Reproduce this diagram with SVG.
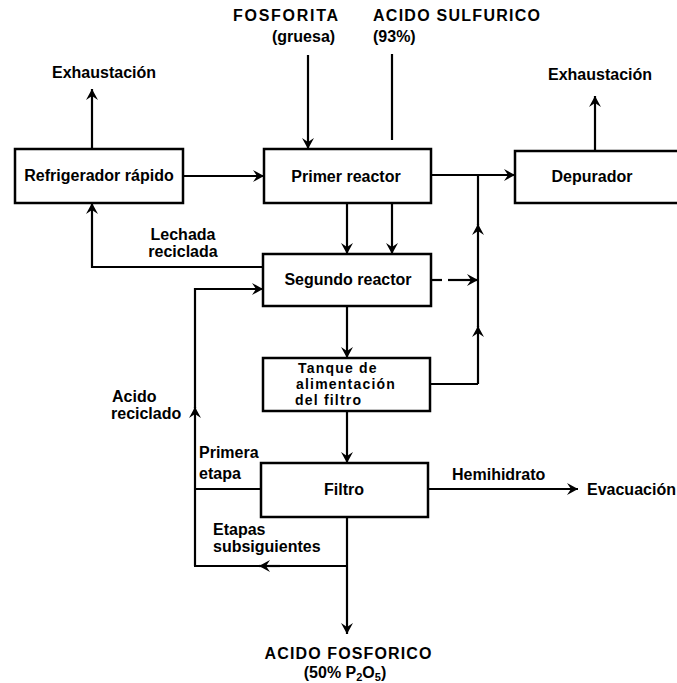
<svg xmlns="http://www.w3.org/2000/svg" width="677" height="683" viewBox="0 0 677 683">
  <style>
    .box { fill: #fff; stroke: #000; stroke-width: 2.5; }
    .ln { fill: none; stroke: #000; stroke-width: 2.2; }
    .arr { fill: none; stroke: #000; stroke-width: 2.2; marker-end: url(#head); }
    .t { font-family: "Liberation Sans", Arial, sans-serif; font-weight: bold; font-size: 16px; fill: #000; }
    .s { font-size: 14px; letter-spacing: 1.2px; }
    .m { text-anchor: middle; }
  </style>
  <defs>
    <marker id="head" markerUnits="userSpaceOnUse" markerWidth="14" markerHeight="14" viewBox="-12 -7 14 14" refX="0" refY="0" orient="auto">
      <path d="M-11,-6 L0,0 L-11,6 L-7,0 Z" fill="#000"/>
    </marker>
  </defs>

  <!-- connectors -->
  <g id="connectors">
    <!-- feeds -->
    <line class="arr" x1="308" y1="55" x2="308" y2="149"/>
    <line class="ln" x1="392" y1="54" x2="392" y2="140"/>
    <!-- exhausts -->
    <line class="arr" x1="92" y1="149" x2="92" y2="89"/>
    <line class="arr" x1="595" y1="151" x2="595" y2="96"/>
    <!-- quench cooler to first reactor -->
    <line class="arr" x1="183" y1="176" x2="264" y2="176"/>
    <!-- first reactor to scrubber -->
    <line class="arr" x1="431" y1="175" x2="515" y2="175"/>
    <!-- vent collector -->
    <line class="ln" x1="478" y1="175" x2="478" y2="225"/>
    <line class="arr" x1="478" y1="327" x2="478" y2="224"/>
    <line class="arr" x1="478" y1="384" x2="478" y2="326"/>
    <polyline class="ln" points="430,384 478,384"/>
    <line class="ln" x1="431" y1="280" x2="442" y2="280"/>
    <line class="arr" x1="448" y1="280" x2="478" y2="280"/>
    <!-- first reactor to second reactor -->
    <line class="arr" x1="347" y1="203" x2="347" y2="254"/>
    <line class="arr" x1="392" y1="203" x2="392" y2="254"/>
    <!-- recycled slurry -->
    <polyline class="arr" points="263,267 92,267 92,203"/>
    <!-- recycled acid -->
    <line class="ln" x1="195" y1="566" x2="195" y2="420"/>
    <line class="arr" x1="195" y1="420" x2="195" y2="407"/>
    <polyline class="arr" points="195,408 195,289 263,289"/>
    <!-- second reactor to feed tank -->
    <line class="arr" x1="347" y1="306" x2="347" y2="358"/>
    <!-- feed tank to filter -->
    <line class="arr" x1="347" y1="411" x2="347" y2="463"/>
    <!-- filter first stage -->
    <line class="ln" x1="261" y1="489" x2="195" y2="489"/>
    <!-- filter product and later stages -->
    <line class="arr" x1="347" y1="517" x2="347" y2="634"/>
    <line class="ln" x1="347" y1="566" x2="270" y2="566"/>
    <line class="arr" x1="280" y1="566" x2="259" y2="566"/>
    <line class="ln" x1="262" y1="566" x2="194" y2="566"/>
    <!-- hemihydrate to disposal -->
    <line class="arr" x1="428" y1="489" x2="578" y2="489"/>
  </g>

  <!-- nodes -->
  <g id="refrigerador">
    <rect class="box" x="15" y="149" width="168" height="54"/>
    <text class="t m" x="99" y="181">Refrigerador rápido</text>
  </g>
  <g id="primer-reactor">
    <rect class="box" x="264" y="149" width="167" height="54"/>
    <text class="t m" x="346" y="182">Primer reactor</text>
  </g>
  <g id="depurador">
    <rect class="box" x="515" y="151" width="170" height="52"/>
    <text class="t m" x="592" y="182">Depurador</text>
  </g>
  <g id="segundo-reactor">
    <rect class="box" x="263" y="254" width="168" height="52"/>
    <text class="t m" x="348" y="285">Segundo reactor</text>
  </g>
  <g id="tanque">
    <rect class="box" x="263" y="358" width="167" height="53"/>
    <text class="t s" x="298" y="373">Tanque de</text>
    <text class="t s" x="296" y="389">alimentación</text>
    <text class="t s" x="295" y="405">del filtro</text>
  </g>
  <g id="filtro">
    <rect class="box" x="261" y="463" width="167" height="54"/>
    <text class="t m" x="344" y="495">Filtro</text>
  </g>

  <!-- labels -->
  <g id="labels">
    <text class="t" x="233" y="21" textLength="105">FOSFORITA</text>
    <text class="t" x="272" y="42">(gruesa)</text>
    <text class="t" x="373" y="21" textLength="167">ACIDO SULFURICO</text>
    <text class="t" x="373" y="42">(93%)</text>
    <text class="t" x="52" y="78">Exhaustación</text>
    <text class="t" x="548" y="80">Exhaustación</text>
    <text class="t m" x="183" y="240">Lechada</text>
    <text class="t m" x="183" y="257">reciclada</text>
    <text class="t" x="112" y="402">Acido</text>
    <text class="t" x="111" y="419">reciclado</text>
    <text class="t" x="199" y="458">Primera</text>
    <text class="t" x="199" y="479">etapa</text>
    <text class="t" x="213" y="535">Etapas</text>
    <text class="t" x="213" y="552">subsiguientes</text>
    <text class="t" x="452" y="480">Hemihidrato</text>
    <text class="t" x="587" y="495">Evacuación</text>
    <text class="t m" x="348" y="659" textLength="167">ACIDO FOSFORICO</text>
    <text class="t m" x="345" y="678">(50% P<tspan dy="3" font-size="11">2</tspan><tspan dy="-3">O</tspan><tspan dy="3" font-size="11">5</tspan><tspan dy="-3">)</tspan></text>
  </g>
</svg>
